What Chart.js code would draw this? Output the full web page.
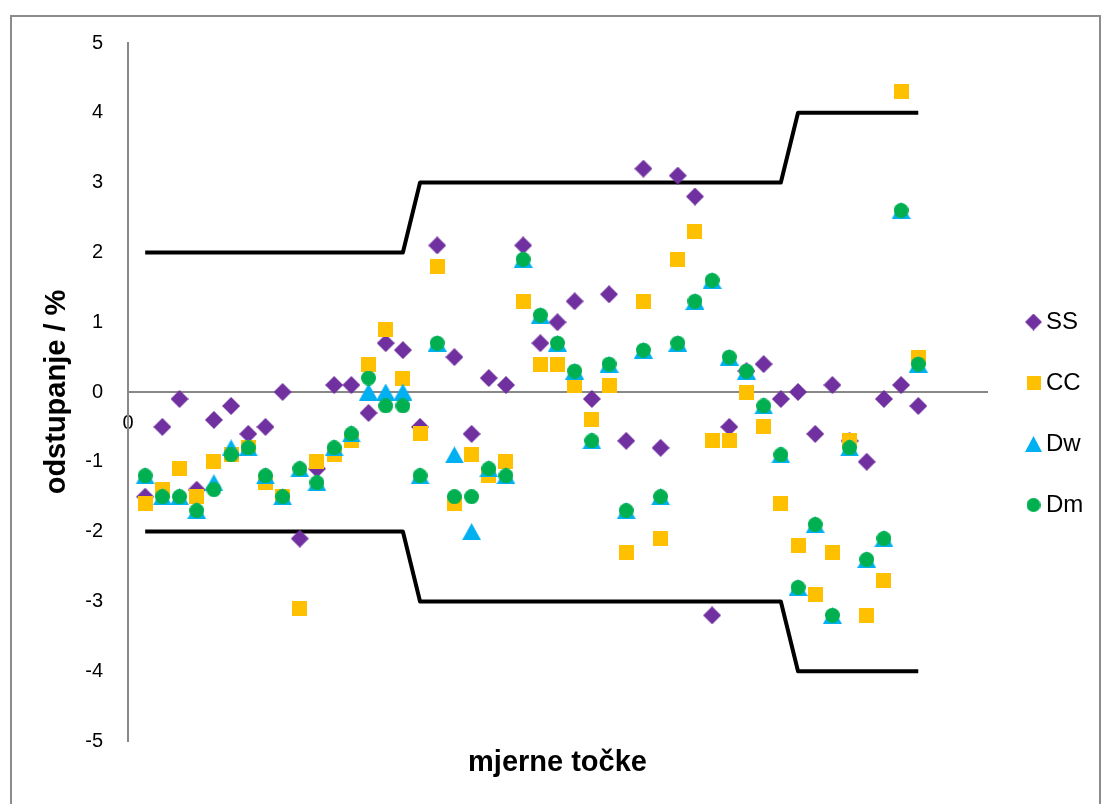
<!DOCTYPE html>
<html>
<head>
<meta charset="utf-8">
<script src="https://cdn.jsdelivr.net/npm/chart.js@4.4.1/dist/chart.umd.min.js"></script>
<style>
html,body{margin:0;padding:0;background:#fff;overflow:hidden;}
#frame{position:absolute;left:10px;top:15px;width:1087px;height:800px;border:2px solid #8c8c8c;}
#wrap{position:absolute;left:0;top:0;width:1107px;height:804px;}
</style>
</head>
<body>
<div id="frame"></div>
<div id="wrap"><canvas id="c" width="1107" height="804"></canvas></div>
<script>
// measurement point numbers
const pointNo = [1,2,3,4,5,6,7,8,9,10,11,12,13,14,15,16,17,18,19,20,21,22,23,24,25,26,27,28,29,30,31,32,33,34,35,36,37,38,39,40,41,42,43,44,45,46];
// deviations (%)
const SS = [-1.5,-0.5,-0.1,-1.4,-0.4,-0.2,-0.6,-0.5,0.0,-2.1, -1.1,0.1,0.1,-0.3,0.7,0.6,-0.5,2.1,0.5,-0.6, 0.2,0.1,2.1,0.7,1.0,1.3,-0.1,1.4,-0.7,3.2, -0.8,3.1,2.8,-3.2,-0.5,0.3,0.4,-0.1,0.0,-0.6, 0.1,-0.7,-1.0,-0.1,0.1,-0.2];
const CC = [-1.6,-1.4,-1.1,-1.5,-1.0,-0.9,-0.8,-1.3,-1.5,-3.1, -1.0,-0.9,-0.7,0.4,0.9,0.2,-0.6,1.8,-1.6,-0.9, -1.2,-1.0,1.3,0.4,0.4,0.1,-0.4,0.1,-2.3,1.3, -2.1,1.9,2.3,-0.7,-0.7,0.0,-0.5,-1.6,-2.2,-2.9, -2.3,-0.7,-3.2,-2.7,4.3,0.5];
const Dw = [-1.2,-1.5,-1.5,-1.7,-1.3,-0.8,-0.8,-1.2,-1.5,-1.1, -1.3,-0.8,-0.6,0.0,0.0,0.0,-1.2,0.7,-0.9,-2.0, -1.1,-1.2,1.9,1.1,0.7,0.3,-0.7,0.4,-1.7,0.6, -1.5,0.7,1.3,1.6,0.5,0.3,-0.2,-0.9,-2.8,-1.9, -3.2,-0.8,-2.4,-2.1,2.6,0.4];
const Dm = [-1.2,-1.5,-1.5,-1.7,-1.4,-0.9,-0.8,-1.2,-1.5,-1.1, -1.3,-0.8,-0.6,0.2,-0.2,-0.2,-1.2,0.7,-1.5,-1.5, -1.1,-1.2,1.9,1.1,0.7,0.3,-0.7,0.4,-1.7,0.6, -1.5,0.7,1.3,1.6,0.5,0.3,-0.2,-0.9,-2.8,-1.9, -3.2,-0.8,-2.4,-2.1,2.6,0.4];
// tolerance limits
const upperLimit = [2,2,2,2,2,2,2,2,2,2,2,2,2,2,2,2, 3,3,3,3,3,3,3,3,3,3,3,3,3,3,3,3,3,3,3,3,3,3, 4,4,4,4,4,4,4,4];
const lowerLimit = [-2,-2,-2,-2,-2,-2,-2,-2,-2,-2,-2,-2,-2,-2,-2,-2, -3,-3,-3,-3,-3,-3,-3,-3,-3,-3,-3,-3,-3,-3,-3,-3,-3,-3,-3,-3,-3,-3, -4,-4,-4,-4,-4,-4,-4,-4];
const yTicks = [-5,-4,-3,-2,-1,0,1,2,3,4,5];
const seriesNames = ['SS','CC','Dw','Dm'];

function marker(shape, color, w, h) {
  const c = document.createElement('canvas');
  c.width = w; c.height = h;
  const g = c.getContext('2d');
  g.fillStyle = color;
  g.beginPath();
  if (shape === 'diamond') { g.moveTo(w/2,0); g.lineTo(w,h/2); g.lineTo(w/2,h); g.lineTo(0,h/2); }
  else if (shape === 'square') { g.rect(0,0,w,h); }
  else if (shape === 'triangle') { g.moveTo(w/2,0); g.lineTo(w,h); g.lineTo(0,h); }
  else { g.arc(w/2,h/2,w/2,0,Math.PI*2); }
  g.closePath(); g.fill();
  return c;
}
const colors = {SS:'#7030A0', CC:'#FFC000', Dw:'#00B0F0', Dm:'#00B050'};
const dataMarkers = {
  SS: marker('diamond', colors.SS, 18, 18),
  CC: marker('square', colors.CC, 15, 15),
  Dw: marker('triangle', colors.Dw, 19, 17),
  Dm: marker('circle', colors.Dm, 15, 15)
};
const legendMarkers = {
  SS: marker('diamond', colors.SS, 17, 17),
  CC: marker('square', colors.CC, 14, 14),
  Dw: marker('triangle', colors.Dw, 17, 16),
  Dm: marker('circle', colors.Dm, 14, 14)
};

const toXY = (arr) => pointNo.map((x, i) => ({x: x, y: arr[i]}));
const seriesData = {SS: SS, CC: CC, Dw: Dw, Dm: Dm};
const orderOf = {SS: 4, CC: 3, Dw: 2, Dm: 1};

const datasets = seriesNames.map(n => ({
  label: n,
  data: toXY(seriesData[n]),
  pointStyle: dataMarkers[n],
  pointRadius: 8,
  pointHoverRadius: 8,
  backgroundColor: colors[n],
  borderColor: colors[n],
  showLine: false,
  order: orderOf[n]
}));
[upperLimit, lowerLimit].forEach((lim, k) => {
  datasets.push({
    label: k === 0 ? 'upper' : 'lower',
    data: toXY(lim),
    showLine: true,
    borderColor: '#000',
    backgroundColor: '#000',
    borderWidth: 4,
    pointRadius: 0,
    tension: 0,
    borderJoinStyle: 'round',
    order: 5
  });
});

Chart.defaults.font.family = "'Liberation Sans', Arial, sans-serif";
Chart.defaults.color = '#000';

const legendPlacer = {
  id: 'legendPlacer',
  afterLayout(chart) {
    const lg = chart.legend;
    if (!lg) return;
    lg.left = 996; lg.right = 1107; lg.width = 111;
    lg.top = 273; lg.bottom = 700; lg.height = 427;
  }
};

new Chart(document.getElementById('c'), {
  type: 'scatter',
  data: { datasets: datasets },
  options: {
    responsive: false,
    animation: false,
    events: [],
    layout: { padding: { left: 0, top: 43, right: 120, bottom: 0 } },
    plugins: {
      tooltip: { enabled: false },
      legend: {
        position: 'chartArea',
        align: 'start',
        labels: {
          usePointStyle: true,
          boxWidth: 1,
          boxHeight: 24,
          padding: 37,
          color: '#000',
          font: { size: 24 },
          filter: (item) => item.datasetIndex < 4,
          sort: (a, b) => a.datasetIndex - b.datasetIndex,
          generateLabels: (chart) => {
            const items = Chart.defaults.plugins.legend.labels.generateLabels(chart);
            items.forEach(it => { if (legendMarkers[it.text]) it.pointStyle = legendMarkers[it.text]; });
            return items;
          }
        }
      }
    },
    scales: {
      x: {
        type: 'linear',
        min: 0, max: 50,
        position: { y: 0 },
        grid: { display: false, drawTicks: false },
        border: { display: true, color: '#888888', width: 2 },
        ticks: { padding: 19, font: { size: 20 }, color: '#000', callback: (v) => String(v) },
        afterBuildTicks: (s) => { s.ticks = [{ value: 0 }]; },
        afterFit: (s) => { s.height = 0; }
      },
      x2: {
        type: 'linear',
        axis: 'x',
        min: 0, max: 50,
        position: 'bottom',
        grid: { display: false, drawTicks: false },
        border: { display: false },
        ticks: { display: false },
        title: { display: true, text: 'mjerne točke', color: '#000', font: { size: 29, weight: 'bold' }, padding: { top: 0, bottom: 24 } },
        afterFit: (s) => { s.height = 63; }
      },
      y: {
        type: 'linear',
        min: -5, max: 5,
        position: 'left',
        grid: { display: false, drawTicks: false },
        border: { display: true, color: '#888888', width: 2 },
        ticks: { stepSize: 1, padding: 25, font: { size: 20 }, color: '#000' },
        afterBuildTicks: (s) => { s.ticks = yTicks.map(v => ({ value: v })); },
        title: { display: true, text: 'odstupanje / %', color: '#000', font: { size: 29, weight: 'bold' }, padding: { top: 40, bottom: 0 } },
        afterFit: (s) => { s.width = 128; }
      }
    }
  },
  plugins: [legendPlacer]
});
</script>
</body>
</html>
